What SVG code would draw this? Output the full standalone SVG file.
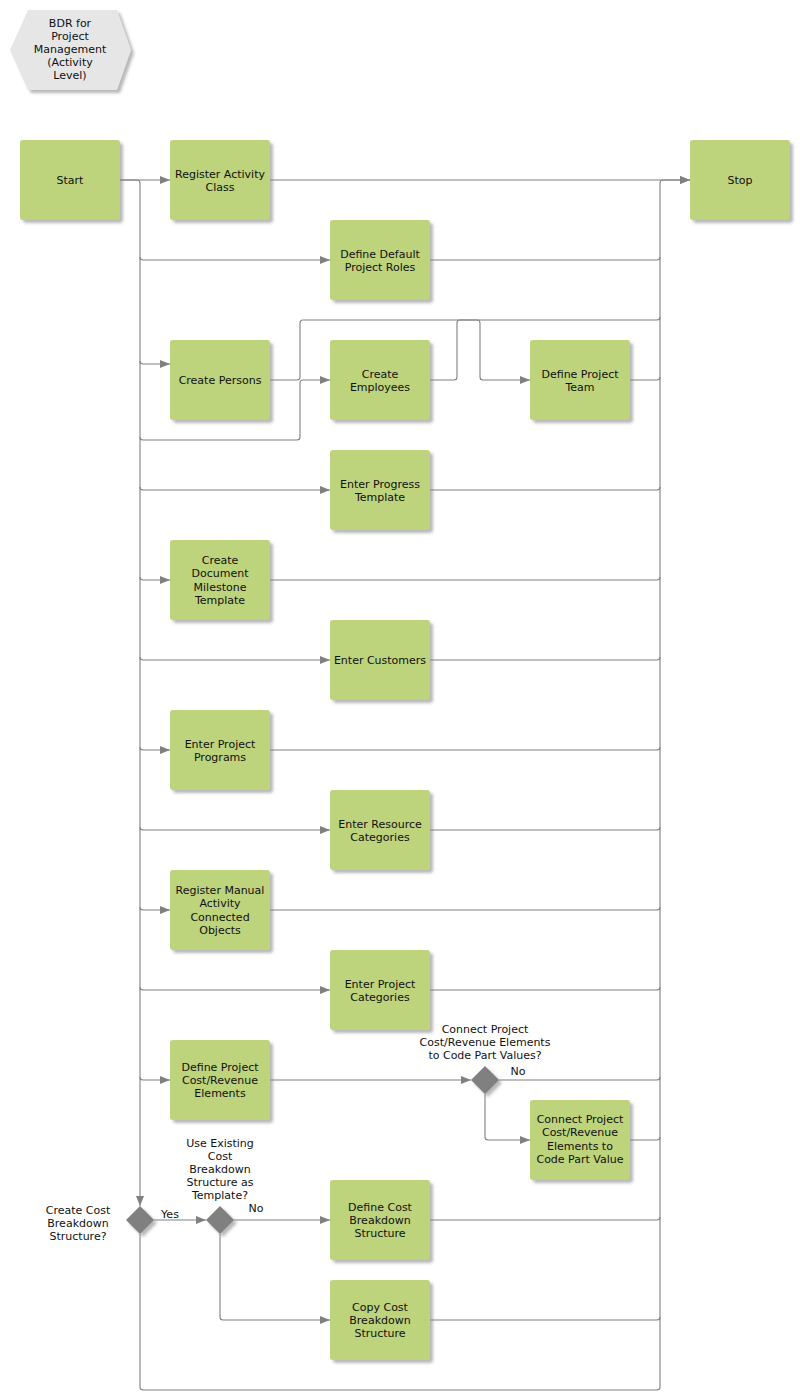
<svg xmlns="http://www.w3.org/2000/svg" width="800" height="1400" viewBox="0 0 800 1400">
<defs>
<filter id="sh" x="-10%" y="-10%" width="130%" height="130%">
<feDropShadow dx="3" dy="3" stdDeviation="1.5" flood-color="#888" flood-opacity="0.6"/>
</filter>
<marker id="ar" viewBox="0 0 10 8" refX="10" refY="4" markerWidth="10" markerHeight="8" markerUnits="userSpaceOnUse" orient="auto">
<path d="M0,0 L10,4 L0,8 z" fill="#808080"/>
</marker>
</defs>
<style>
.n{fill:#bdd37b;filter:url(#sh)}
.d{fill:#808080;filter:url(#sh)}
.h{fill:#e6e6e6;filter:url(#sh)}
text{font-family:"DejaVu Sans",Verdana,sans-serif;font-size:11px;fill:#111;text-anchor:middle}
.c path{fill:none;stroke:#808080;stroke-width:1.1}
.a{marker-end:url(#ar)}
</style>
<rect width="800" height="1400" fill="#fff"/>

<g id="title">
<polygon class="h" points="10,50 28,10 117,10 131,50 117,90 28,90"/>
<text x="70" y="27">BDR for</text><text x="70" y="40">Project</text><text x="70" y="53">Management</text><text x="70" y="66">(Activity</text><text x="70" y="79">Level)</text>
</g>

<g class="c" id="connectors">
<path class="a" d="M120,180 H170"/>
<path class="a" d="M120,180 H137 Q140,180 140,183 V1206"/>
<path class="a" d="M270,180 H690"/>
<path class="a" d="M140,1234 V1387 Q140,1390 143,1390 H657 Q660,1390 660,1387 V183 Q660,180 663,180 H690"/>
<path class="a" d="M140,257 Q140,260 143,260 H330"/>
<path class="a" d="M140,361 Q140,364 143,364 H170"/>
<path class="a" d="M140,437 Q140,440 143,440 H297 Q300,440 300,437 V383 Q300,380 303,380 H330"/>
<path class="a" d="M140,487 Q140,490 143,490 H330"/>
<path class="a" d="M140,577 Q140,580 143,580 H170"/>
<path class="a" d="M140,657 Q140,660 143,660 H330"/>
<path class="a" d="M140,747 Q140,750 143,750 H170"/>
<path class="a" d="M140,827 Q140,830 143,830 H330"/>
<path class="a" d="M140,907 Q140,910 143,910 H170"/>
<path class="a" d="M140,987 Q140,990 143,990 H330"/>
<path class="a" d="M140,1077 Q140,1080 143,1080 H170"/>
<path class="a" d="M270,380 H297 Q300,380 300,377 V323 Q300,320 303,320 H477 Q480,320 480,323 V377 Q480,380 483,380 H530"/>
<path d="M430,380 H454 Q457,380 457,377 V323 Q457,320 460,320 H657 Q660,320 660,317"/>
<path d="M430,260 H657 Q660,260 660,257"/>
<path d="M630,380 H657 Q660,380 660,377"/>
<path d="M430,490 H657 Q660,490 660,487"/>
<path d="M270,580 H657 Q660,580 660,577"/>
<path d="M430,660 H657 Q660,660 660,657"/>
<path d="M270,750 H657 Q660,750 660,747"/>
<path d="M430,830 H657 Q660,830 660,827"/>
<path d="M270,910 H657 Q660,910 660,907"/>
<path d="M430,990 H657 Q660,990 660,987"/>
<path class="a" d="M270,1080 H471"/>
<path d="M499,1080 H657 Q660,1080 660,1077"/>
<path class="a" d="M485,1094 V1137 Q485,1140 488,1140 H530"/>
<path d="M630,1140 H657 Q660,1140 660,1137"/>
<path class="a" d="M154,1220 H206"/>
<path class="a" d="M234,1220 H330"/>
<path class="a" d="M220,1234 V1317 Q220,1320 223,1320 H330"/>
<path d="M430,1220 H657 Q660,1220 660,1217"/>
<path d="M430,1320 H657 Q660,1320 660,1317"/>
<text x="170" y="1218">Yes</text>
<text x="256" y="1212">No</text>
<text x="518" y="1075">No</text>
</g>

<g id="start"><rect class="n" x="20" y="140" width="100" height="80" rx="3"/><text x="70" y="184">Start</text></g>
<g id="register-activity-class"><rect class="n" x="170" y="140" width="100" height="80" rx="3"/><text x="220" y="178">Register Activity</text><text x="220" y="191">Class</text></g>
<g id="stop"><rect class="n" x="690" y="140" width="100" height="80" rx="3"/><text x="740" y="184">Stop</text></g>
<g id="define-default-project-roles"><rect class="n" x="330" y="220" width="100" height="80" rx="3"/><text x="380" y="258">Define Default</text><text x="380" y="271">Project Roles</text></g>
<g id="create-persons"><rect class="n" x="170" y="340" width="100" height="80" rx="3"/><text x="220" y="384">Create Persons</text></g>
<g id="create-employees"><rect class="n" x="330" y="340" width="100" height="80" rx="3"/><text x="380" y="378">Create</text><text x="380" y="391">Employees</text></g>
<g id="define-project-team"><rect class="n" x="530" y="340" width="100" height="80" rx="3"/><text x="580" y="378">Define Project</text><text x="580" y="391">Team</text></g>
<g id="enter-progress-template"><rect class="n" x="330" y="450" width="100" height="80" rx="3"/><text x="380" y="488">Enter Progress</text><text x="380" y="501">Template</text></g>
<g id="create-document-milestone-template"><rect class="n" x="170" y="540" width="100" height="80" rx="3"/><text x="220" y="564">Create</text><text x="220" y="577.3">Document</text><text x="220" y="590.6">Milestone</text><text x="220" y="604">Template</text></g>
<g id="enter-customers"><rect class="n" x="330" y="620" width="100" height="80" rx="3"/><text x="380" y="664">Enter Customers</text></g>
<g id="enter-project-programs"><rect class="n" x="170" y="710" width="100" height="80" rx="3"/><text x="220" y="748">Enter Project</text><text x="220" y="761">Programs</text></g>
<g id="enter-resource-categories"><rect class="n" x="330" y="790" width="100" height="80" rx="3"/><text x="380" y="828">Enter Resource</text><text x="380" y="841">Categories</text></g>
<g id="register-manual-activity-connected-objects"><rect class="n" x="170" y="870" width="100" height="80" rx="3"/><text x="220" y="894">Register Manual</text><text x="220" y="907.3">Activity</text><text x="220" y="920.6">Connected</text><text x="220" y="934">Objects</text></g>
<g id="enter-project-categories"><rect class="n" x="330" y="950" width="100" height="80" rx="3"/><text x="380" y="988">Enter Project</text><text x="380" y="1001">Categories</text></g>
<g id="define-project-cost-revenue-elements"><rect class="n" x="170" y="1040" width="100" height="80" rx="3"/><text x="220" y="1071">Define Project</text><text x="220" y="1084">Cost/Revenue</text><text x="220" y="1097">Elements</text></g>
<g id="decision-connect-code-part"><polygon class="d" points="485,1066 499,1080 485,1094 471,1080"/><text x="485" y="1033">Connect Project</text><text x="485" y="1046">Cost/Revenue Elements</text><text x="485" y="1059">to Code Part Values?</text></g>
<g id="connect-project-cost-revenue-elements"><rect class="n" x="530" y="1100" width="100" height="80" rx="3"/><text x="580" y="1123">Connect Project</text><text x="580" y="1136.3">Cost/Revenue</text><text x="580" y="1149.6">Elements to</text><text x="580" y="1163">Code Part Value</text></g>
<g id="decision-create-cost-breakdown"><polygon class="d" points="140,1206 154,1220 140,1234 126,1220"/><text x="78" y="1214">Create Cost</text><text x="78" y="1227">Breakdown</text><text x="78" y="1240">Structure?</text></g>
<g id="decision-use-existing"><polygon class="d" points="220,1206 234,1220 220,1234 206,1220"/><text x="220" y="1147">Use Existing</text><text x="220" y="1160">Cost</text><text x="220" y="1173">Breakdown</text><text x="220" y="1186">Structure as</text><text x="220" y="1199">Template?</text></g>
<g id="define-cost-breakdown-structure"><rect class="n" x="330" y="1180" width="100" height="80" rx="3"/><text x="380" y="1211">Define Cost</text><text x="380" y="1224">Breakdown</text><text x="380" y="1237">Structure</text></g>
<g id="copy-cost-breakdown-structure"><rect class="n" x="330" y="1280" width="100" height="80" rx="3"/><text x="380" y="1311">Copy Cost</text><text x="380" y="1324">Breakdown</text><text x="380" y="1337">Structure</text></g>
</svg>
